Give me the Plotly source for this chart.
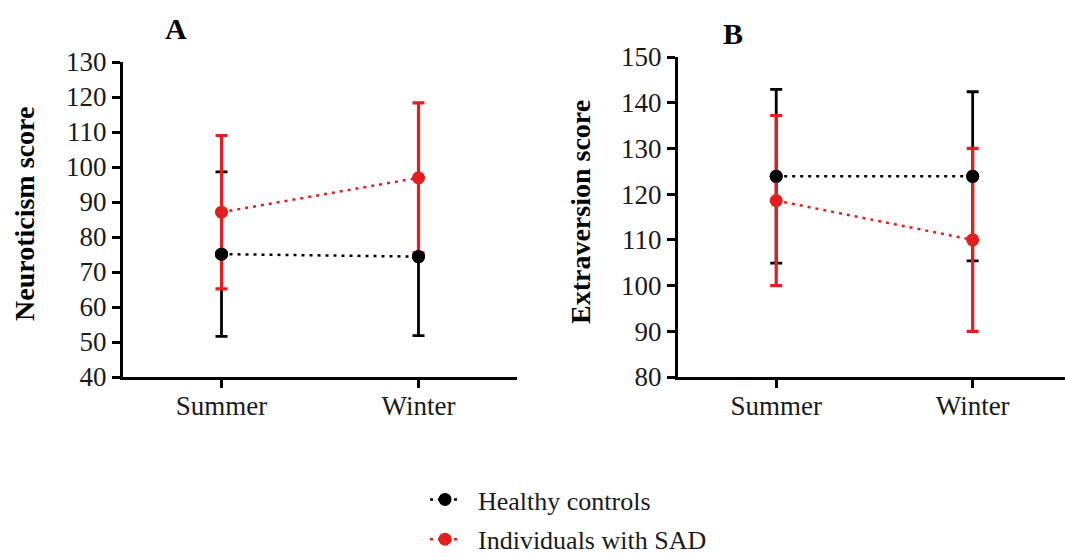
import plotly.graph_objects as go

seasons = ["Summer", "Winter"]
group_names = ["Healthy controls", "Individuals with SAD"]

# Panel A: Neuroticism
neu_hc_mean = [75.1, 74.4]
neu_hc_sd = [23.5, 22.6]
neu_sad_mean = [87.1, 96.9]
neu_sad_sd = [21.9, 21.4]

# Panel B: Extraversion
ext_hc_mean = [123.9, 123.9]
ext_hc_sd = [19.0, 18.5]
ext_sad_mean = [118.6, 110.0]
ext_sad_sd = [18.6, 20.0]

neu_ticks = [40, 50, 60, 70, 80, 90, 100, 110, 120, 130]
ext_ticks = [80, 90, 100, 110, 120, 130, 140, 150]

BLACK = "#000000"
RED = "#e41e1e"
FONT = "Liberation Serif"
W, H = 1065, 557

xpos = [0, 1]
PAD = "\u2002"

fig = go.Figure()


def add_panel(xa, ya, hc_m, hc_s, sad_m, sad_s, show):
    fig.add_trace(go.Scatter(
        x=xpos, y=hc_m, xaxis=xa, yaxis=ya, mode="lines+markers",
        name=PAD + group_names[0], legendgroup="hc", showlegend=show,
        line=dict(color=BLACK, width=2.5, dash="3px,5px"),
        marker=dict(color=BLACK, size=13),
        error_y=dict(type="data", array=hc_s, color=BLACK, thickness=2.8, width=6),
    ))
    fig.add_trace(go.Scatter(
        x=xpos, y=sad_m, xaxis=xa, yaxis=ya, mode="lines+markers",
        name=PAD + group_names[1], legendgroup="sad", showlegend=show,
        line=dict(color=RED, width=2.5, dash="3px,5px"),
        marker=dict(color=RED, size=13),
        error_y=dict(type="data", array=sad_s, color=RED, thickness=3.2, width=6),
    ))
    fig.add_trace(go.Scatter(
        x=xpos, y=hc_m, xaxis=xa, yaxis=ya, mode="markers",
        showlegend=False, hoverinfo="skip",
        marker=dict(color=BLACK, size=13),
    ))


add_panel("x", "y", neu_hc_mean, neu_hc_sd, neu_sad_mean, neu_sad_sd, True)
add_panel("x2", "y2", ext_hc_mean, ext_hc_sd, ext_sad_mean, ext_sad_sd, False)

axis_common = dict(
    showline=True, linecolor=BLACK, linewidth=3, showgrid=False, zeroline=False,
    ticks="outside", ticklen=8, tickwidth=2.5, tickcolor=BLACK,
    tickfont=dict(family=FONT, size=27, color="#1a1a1a"),
    automargin=False,
)

bottom = 1 - 377 / H
fig.update_layout(
    width=W, height=H,
    font=dict(family=FONT, color="#1a1a1a"),
    margin=dict(l=0, r=0, t=0, b=0, autoexpand=False),
    plot_bgcolor="white", paper_bgcolor="white",
    xaxis=dict(axis_common, domain=[123 / W, 517 / W], range=[-0.5, 1.5],
               tickvals=xpos, ticktext=seasons, anchor="y", ticklabelstandoff=-5),
    yaxis=dict(axis_common, domain=[bottom, 1 - 62 / H], range=[40, 130],
               tickvals=neu_ticks, anchor="x"),
    xaxis2=dict(axis_common, domain=[678 / W, 1.0], range=[-0.5, 1.47],
                tickvals=xpos, ticktext=seasons, anchor="y2", ticklabelstandoff=-5),
    yaxis2=dict(axis_common, domain=[bottom, 1 - 57 / H], range=[80, 150],
                tickvals=ext_ticks, anchor="x2"),
    legend=dict(x=425 / W, y=1 - 476 / H, xanchor="left", yanchor="top",
                font=dict(family=FONT, size=26, color="#1a1a1a"),
                traceorder="grouped", tracegroupgap=3, itemwidth=30,
                bgcolor="rgba(0,0,0,0)"),
    showlegend=True,
    annotations=[
        dict(text="<b>A</b>", x=176 / W, y=1 - 29 / H, xref="paper", yref="paper",
             xanchor="center", yanchor="middle",
             showarrow=False, font=dict(family=FONT, size=30, color=BLACK)),
        dict(text="<b>B</b>", x=733 / W, y=1 - 33 / H, xref="paper", yref="paper",
             xanchor="center", yanchor="middle",
             showarrow=False, font=dict(family=FONT, size=30, color=BLACK)),
        dict(text="<b>Neuroticism score</b>", x=24 / W, y=1 - 214 / H,
             xref="paper", yref="paper", textangle=-90, showarrow=False,
             xanchor="center", yanchor="middle",
             font=dict(family=FONT, size=28, color=BLACK)),
        dict(text="<b>Extraversion score</b>", x=580 / W, y=1 - 212 / H,
             xref="paper", yref="paper", textangle=-90, showarrow=False,
             xanchor="center", yanchor="middle",
             font=dict(family=FONT, size=28, color=BLACK)),
    ],
)

fig.write_html("out.html")
